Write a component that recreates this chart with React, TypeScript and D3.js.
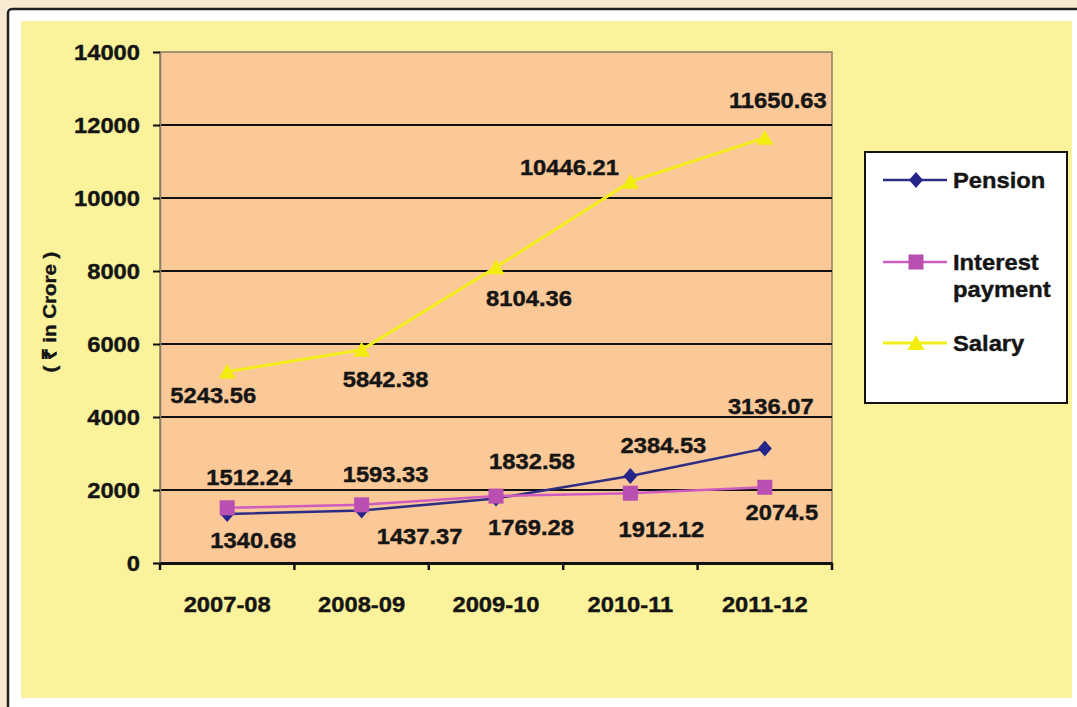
import React, { useEffect, useRef } from 'react';
import * as d3 from 'd3';

const categories = ['2007-08', '2008-09', '2009-10', '2010-11', '2011-12'];
const pension = [1340.68, 1437.37, 1769.28, 2384.53, 3136.07];
const interest = [1512.24, 1593.33, 1832.58, 1912.12, 2074.5];
const salary = [5243.56, 5842.38, 8104.36, 10446.21, 11650.63];
const yTicks = [0, 2000, 4000, 6000, 8000, 10000, 12000, 14000];
const seriesNames = ['Pension', 'Interest payment', 'Salary'];

// where each value label sits relative to its point (dx, dy to baseline)
const labelOffsets = {
  Pension: [[26, 34], [58, 33], [35, 37], [33, -23], [6, -35]],
  'Interest payment': [[22, -23], [24, -23], [36, -27], [31, 44], [17, 33]],
  Salary: [[-14, 31], [24, 37], [33, 39], [-61, -7], [13, -30]],
};

const W = 1077, H = 707;
const FONT = '"Liberation Sans", Arial, sans-serif';
const SX = 1.08;

export default function App() {
  const ref = useRef<SVGSVGElement>(null);

  useEffect(() => {
    const svg = d3.select(ref.current);
    svg.selectAll('*').remove();

    const txt = (g, x, y, s, anchor = 'middle', size = 22, rot = 0) =>
      g.append('text')
        .attr('transform', `translate(${x},${y})${rot ? ` rotate(${rot})` : ''} scale(${SX},1)`)
        .attr('text-anchor', anchor)
        .attr('font-family', FONT).attr('font-weight', 'bold').attr('font-size', size)
        .attr('fill', '#151515').attr('stroke', '#151515').attr('stroke-width', 0.4)
        .text(s);

    // page background + frame
    svg.append('rect').attr('width', W).attr('height', H).attr('fill', '#f7ead0');
    svg.append('rect').attr('x', 8).attr('y', 9).attr('width', W).attr('height', H)
      .attr('rx', 4).attr('fill', '#fff').attr('stroke', '#222').attr('stroke-width', 2.5);
    svg.append('rect').attr('x', 21).attr('y', 21).attr('width', 1051).attr('height', 677).attr('fill', '#fbf39b');

    const left = 160, right = 832, top = 52, bottom = 563;
    const x = d3.scaleBand().domain(categories).range([left, right]);
    const cx = (c) => x(c) + x.bandwidth() / 2;
    const y = d3.scaleLinear().domain([0, 14000]).range([bottom, top]);

    const g = svg.append('g');
    g.append('rect').attr('x', left).attr('y', top).attr('width', right - left).attr('height', bottom - top)
      .attr('fill', '#fbc897').attr('stroke', '#8a7c66').attr('stroke-width', 1.5);

    // gridlines
    g.selectAll('line.grid').data(yTicks.filter(t => t > 0 && t < 14000)).enter().append('line')
      .attr('x1', left).attr('x2', right).attr('y1', d => y(d)).attr('y2', d => y(d))
      .attr('stroke', '#111').attr('stroke-width', 2);

    // y axis
    const yAxis = g.append('g').attr('transform', `translate(${left},0)`)
      .call(d3.axisLeft(y).tickValues(yTicks).tickSize(7).tickFormat(() => ''));
    yAxis.select('.domain').attr('stroke', '#8a7c66').attr('stroke-width', 1.5);
    yAxis.selectAll('line').attr('stroke', '#111').attr('stroke-width', 2);
    yTicks.forEach(t => txt(g, 140, y(t) + 8, String(t), 'end'));

    // x axis
    const xAxis = g.append('g').attr('transform', `translate(0,${bottom})`)
      .call(d3.axisBottom(x).tickValues([]).tickSizeOuter(0));
    xAxis.select('.domain').attr('stroke', '#111').attr('stroke-width', 3);
    const edges = categories.map(c => x(c)).concat([right]);
    g.selectAll('line.xt').data(edges).enter().append('line')
      .attr('x1', d => d).attr('x2', d => d).attr('y1', bottom).attr('y2', bottom + 7)
      .attr('stroke', '#111').attr('stroke-width', 2.5);
    categories.forEach(c => txt(g, cx(c), 612, c));

    txt(svg, 56, 312, '( \u20b9 in Crore )', 'middle', 19, -90);

    const marker = (sel, kind, fill) => {
      if (kind === 'diamond') sel.append('path').attr('d', 'M0,-8L7,0L0,8L-7,0Z').attr('fill', fill);
      else if (kind === 'square') sel.append('rect').attr('x', -7.5).attr('y', -7.5).attr('width', 15).attr('height', 15).attr('fill', fill);
      else sel.append('path').attr('d', 'M0,-8L8.5,7L-8.5,7Z').attr('fill', fill);
    };

    const series = [
      { name: seriesNames[0], values: pension, line: '#2d2d86', fill: '#26268a', kind: 'diamond', w: 2.5 },
      { name: seriesNames[1], values: interest, line: '#cf5cbf', fill: '#b94fb0', kind: 'square', w: 2.5 },
      { name: seriesNames[2], values: salary, line: '#f3ee1c', fill: '#f3ee10', kind: 'triangle', w: 3 },
    ];
    const lineGen = d3.line<number>().x((_, i) => cx(categories[i])).y(d => y(d));

    const drawOrder = [series[2], series[0], series[1]];
    drawOrder.forEach(s => {
      g.append('path').datum(s.values).attr('d', lineGen).attr('fill', 'none')
        .attr('stroke', s.line).attr('stroke-width', s.w);
      s.values.forEach((v, i) => {
        const m = g.append('g').attr('transform', `translate(${cx(categories[i])},${y(v)})`);
        marker(m, s.kind, s.fill);
      });
    });
    series.forEach(s => {
      s.values.forEach((v, i) => {
        const [dx, dy] = labelOffsets[s.name][i];
        txt(g, cx(categories[i]) + dx, y(v) + dy, String(v));
      });
    });

    // legend
    const lg = svg.append('g');
    lg.append('rect').attr('x', 865).attr('y', 152).attr('width', 202).attr('height', 251)
      .attr('fill', '#fff').attr('stroke', '#111').attr('stroke-width', 2);
    const rows = [180, 262, 343];
    series.forEach((s, i) => {
      const ly = rows[i];
      lg.append('line').attr('x1', 883).attr('x2', 947).attr('y1', ly).attr('y2', ly)
        .attr('stroke', s.line).attr('stroke-width', s.w);
      marker(lg.append('g').attr('transform', `translate(916,${ly})`), s.kind, s.fill);
      const words = s.name === 'Interest payment' ? ['Interest', 'payment'] : [s.name];
      words.forEach((wd, j) => txt(lg, 953, ly + 8 + j * 27, wd, 'start'));
    });
  }, []);

  return (
    <svg ref={ref} width={W} height={H}
      style={{ position: 'fixed', left: 0, top: 0, display: 'block' }} />
  );
}
